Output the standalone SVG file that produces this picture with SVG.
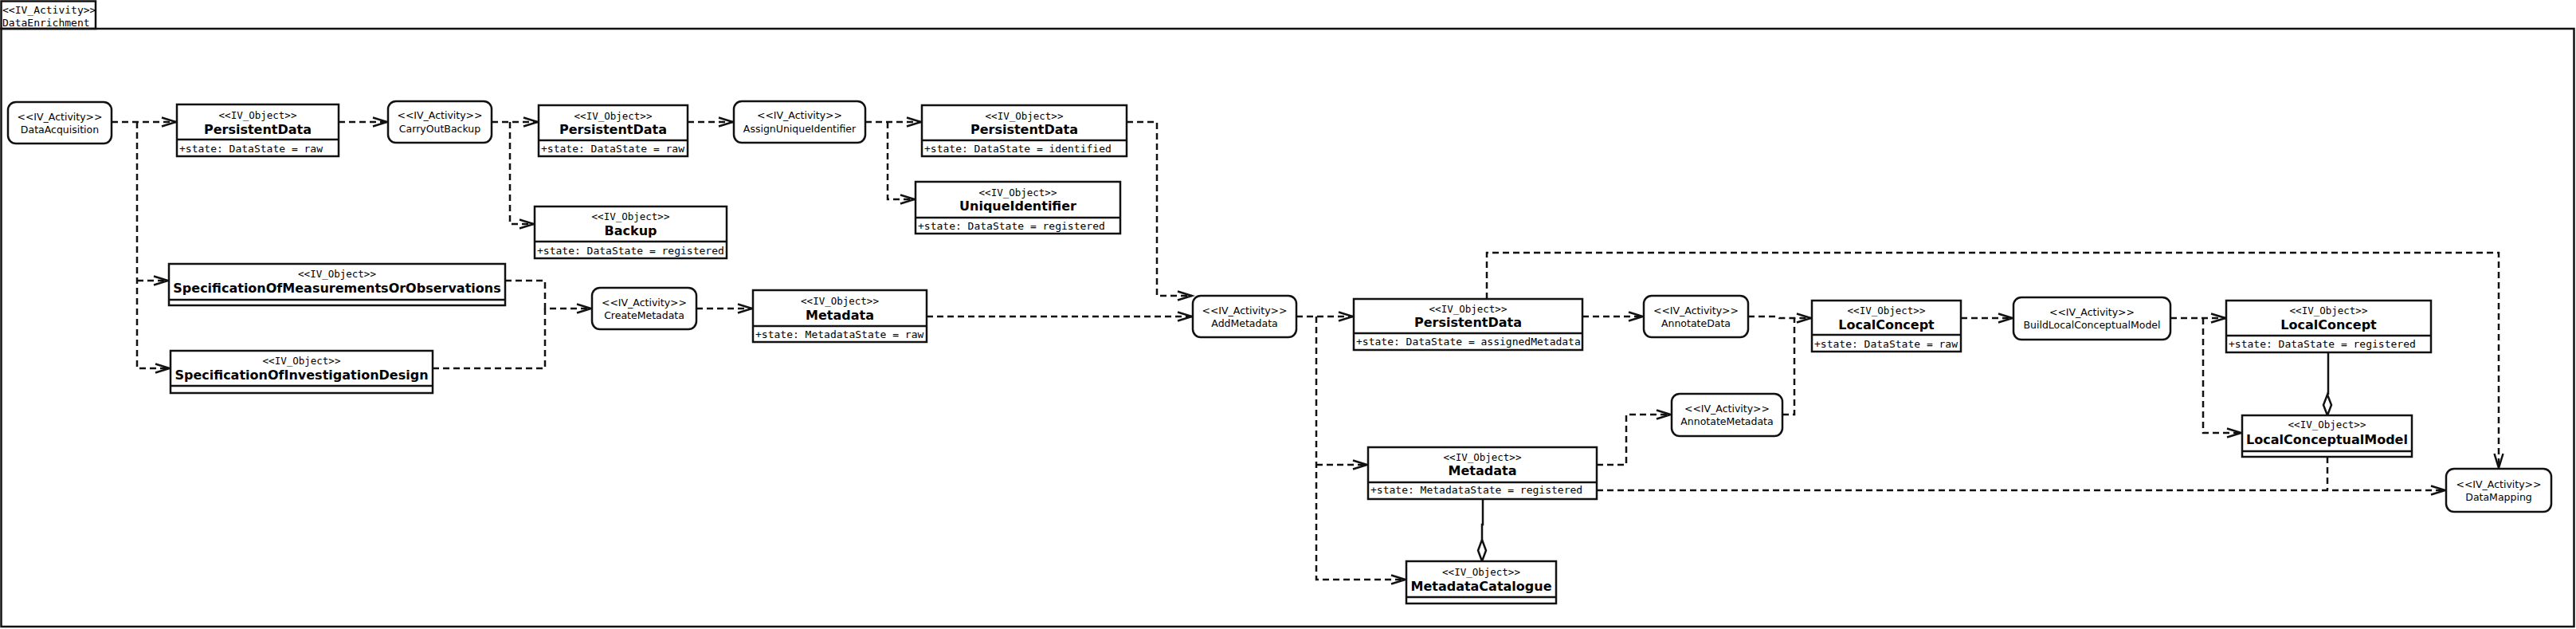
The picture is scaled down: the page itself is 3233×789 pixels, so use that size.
<svg xmlns="http://www.w3.org/2000/svg" width="3233" height="789" viewBox="0 0 3233 789">
<style>
.frame{fill:none;stroke:#111;stroke-width:2.5}
.obj{fill:#fff;stroke:#111;stroke-width:2.5}
.act{fill:#fff;stroke:#111;stroke-width:2.5}
.div{stroke:#111;stroke-width:2.5}
.edge{fill:none;stroke:#111;stroke-width:2.5;stroke-dasharray:8 5}
.solid{fill:none;stroke:#111;stroke-width:2.5}
.dia{fill:#fff;stroke:#111;stroke-width:2.5}
.mono{font-family:"DejaVu Sans Mono","Liberation Mono",monospace;font-size:13px;fill:#000}
.st{font-family:"DejaVu Sans Mono","Liberation Mono",monospace;font-size:12.5px;fill:#000;text-anchor:middle}
.nm{font-family:"DejaVu Sans","Liberation Sans",sans-serif;font-size:16px;font-weight:bold;fill:#000;text-anchor:middle}
.at{font-family:"DejaVu Sans Mono","Liberation Mono",monospace;font-size:13px;fill:#000}
.ac{font-family:"DejaVu Sans","Liberation Sans",sans-serif;font-size:12.5px;fill:#000;text-anchor:middle}
text{dominant-baseline:central}
</style>
<defs>
<marker id="arr" markerUnits="userSpaceOnUse" markerWidth="24" markerHeight="16" viewBox="-20 -8 24 16" refX="0" refY="0" orient="auto">
<path d="M-18,-5.5 L0,0 L-18,5.5" fill="none" stroke="#111" stroke-width="2.5"/>
</marker>
</defs>
<rect x="0" y="0" width="3233" height="789" fill="#fff"/>
<g id="frame">
<rect class="frame" x="1.5" y="36" width="3229" height="750"/>
<rect class="frame" x="1.5" y="1.5" width="118.5" height="34.5"/>
<text class="mono" x="3" y="12">&lt;&lt;IV_Activity&gt;&gt;</text>
<text class="mono" x="3" y="28">DataEnrichment</text>
</g>
<g id="connectors">
<path class="edge" d="M140,153 H221" marker-end="url(#arr)"/>
<path class="edge" d="M172,153 V462 H213" marker-end="url(#arr)"/>
<path class="edge" d="M172,352 H211" marker-end="url(#arr)"/>
<path class="edge" d="M425,153 H486" marker-end="url(#arr)"/>
<path class="edge" d="M617,153 H675" marker-end="url(#arr)"/>
<path class="edge" d="M640,153 V281 H670" marker-end="url(#arr)"/>
<path class="edge" d="M863,153 H920" marker-end="url(#arr)"/>
<path class="edge" d="M1086,153 H1156" marker-end="url(#arr)"/>
<path class="edge" d="M1114,153 V250 H1148" marker-end="url(#arr)"/>
<path class="edge" d="M1414,153 H1452 V371 H1496" marker-end="url(#arr)"/>
<path class="edge" d="M634,352 H684 V387 H742" marker-end="url(#arr)"/>
<path class="edge" d="M543,462 H684 V387"/>
<path class="edge" d="M874,387 H944" marker-end="url(#arr)"/>
<path class="edge" d="M1163,397 H1496" marker-end="url(#arr)"/>
<path class="edge" d="M1627,397 H1698" marker-end="url(#arr)"/>
<path class="edge" d="M1652,397 V727 H1764" marker-end="url(#arr)"/>
<path class="edge" d="M1652,583 H1716" marker-end="url(#arr)"/>
<path class="edge" d="M1986,397 H2062" marker-end="url(#arr)"/>
<path class="edge" d="M1866,375 V317 H3136 V587" marker-end="url(#arr)"/>
<path class="edge" d="M2194,397 H2230 L2233,399 H2273" marker-end="url(#arr)"/>
<path class="edge" d="M2004,583 H2041 V520 H2097" marker-end="url(#arr)"/>
<path class="edge" d="M2237,520 H2252 V399"/>
<path class="edge" d="M2461,399 H2526" marker-end="url(#arr)"/>
<path class="edge" d="M2724,399 H2793" marker-end="url(#arr)"/>
<path class="edge" d="M2765,399 V543 H2813" marker-end="url(#arr)"/>
<path class="edge" d="M2004,615 H3069" marker-end="url(#arr)"/>
<path class="edge" d="M2921,573 V615"/>
<path class="solid" d="M2922,442 V495"/>
<path class="dia" d="M2921,495 L2926,508 L2921,521 L2916,508 Z"/>
<path class="solid" d="M1861,626 V658 H1860 V677"/>
<path class="dia" d="M1860,677 L1865,690.5 L1860,704 L1855,690.5 Z"/>
</g>
<g id="DataAcquisition">
<rect class="act" x="10" y="128" width="130" height="52" rx="10"/>
<text class="ac" x="75" y="146">&lt;&lt;IV_Activity&gt;&gt;</text>
<text class="ac" x="75" y="162">DataAcquisition</text>
</g>
<g id="PersistentData1">
<rect class="obj" x="222" y="131" width="203" height="65"/>
<line class="div" x1="222" y1="175" x2="425" y2="175"/>
<text class="st" x="323.5" y="144">&lt;&lt;IV_Object&gt;&gt;</text>
<text class="nm" x="323.5" y="162">PersistentData</text>
<text class="at" x="225" y="186">+state: DataState = raw</text>
</g>
<g id="CarryOutBackup">
<rect class="act" x="487" y="127" width="130" height="52" rx="10"/>
<text class="ac" x="552" y="144">&lt;&lt;IV_Activity&gt;&gt;</text>
<text class="ac" x="552" y="161">CarryOutBackup</text>
</g>
<g id="PersistentData2">
<rect class="obj" x="676" y="132" width="187" height="64"/>
<line class="div" x1="676" y1="176" x2="863" y2="176"/>
<text class="st" x="769.5" y="145">&lt;&lt;IV_Object&gt;&gt;</text>
<text class="nm" x="769.5" y="162">PersistentData</text>
<text class="at" x="679" y="186">+state: DataState = raw</text>
</g>
<g id="Backup">
<rect class="obj" x="671" y="259" width="241" height="65"/>
<line class="div" x1="671" y1="303" x2="912" y2="303"/>
<text class="st" x="791.5" y="271">&lt;&lt;IV_Object&gt;&gt;</text>
<text class="nm" x="791.5" y="289">Backup</text>
<text class="at" x="674" y="314">+state: DataState = registered</text>
</g>
<g id="AssignUniqueIdentifier">
<rect class="act" x="921" y="127" width="165" height="52" rx="10"/>
<text class="ac" x="1003.5" y="144">&lt;&lt;IV_Activity&gt;&gt;</text>
<text class="ac" x="1003.5" y="161">AssignUniqueIdentifier</text>
</g>
<g id="PersistentData3">
<rect class="obj" x="1157" y="132" width="257" height="64"/>
<line class="div" x1="1157" y1="176" x2="1414" y2="176"/>
<text class="st" x="1285.5" y="145">&lt;&lt;IV_Object&gt;&gt;</text>
<text class="nm" x="1285.5" y="162">PersistentData</text>
<text class="at" x="1160" y="186">+state: DataState = identified</text>
</g>
<g id="UniqueIdentifier">
<rect class="obj" x="1149" y="228" width="257" height="65"/>
<line class="div" x1="1149" y1="273" x2="1406" y2="273"/>
<text class="st" x="1277.5" y="241">&lt;&lt;IV_Object&gt;&gt;</text>
<text class="nm" x="1277.5" y="258">UniqueIdentifier</text>
<text class="at" x="1152" y="283">+state: DataState = registered</text>
</g>
<g id="SpecificationOfMeasurementsOrObservations">
<rect class="obj" x="212" y="331" width="422" height="52"/>
<line class="div" x1="212" y1="376" x2="634" y2="376"/>
<text class="st" x="423" y="343">&lt;&lt;IV_Object&gt;&gt;</text>
<text class="nm" x="423" y="361">SpecificationOfMeasurementsOrObservations</text>
</g>
<g id="SpecificationOfInvestigationDesign">
<rect class="obj" x="214" y="440" width="329" height="53"/>
<line class="div" x1="214" y1="484" x2="543" y2="484"/>
<text class="st" x="378.5" y="452">&lt;&lt;IV_Object&gt;&gt;</text>
<text class="nm" x="378.5" y="470">SpecificationOfInvestigationDesign</text>
</g>
<g id="CreateMetadata">
<rect class="act" x="743" y="361" width="131" height="52" rx="10"/>
<text class="ac" x="808.5" y="379">&lt;&lt;IV_Activity&gt;&gt;</text>
<text class="ac" x="808.5" y="395">CreateMetadata</text>
</g>
<g id="Metadata1">
<rect class="obj" x="945" y="364" width="218" height="65"/>
<line class="div" x1="945" y1="409" x2="1163" y2="409"/>
<text class="st" x="1054" y="377">&lt;&lt;IV_Object&gt;&gt;</text>
<text class="nm" x="1054" y="395">Metadata</text>
<text class="at" x="948" y="419">+state: MetadataState = raw</text>
</g>
<g id="AddMetadata">
<rect class="act" x="1497" y="371" width="130" height="52" rx="10"/>
<text class="ac" x="1562" y="389">&lt;&lt;IV_Activity&gt;&gt;</text>
<text class="ac" x="1562" y="405">AddMetadata</text>
</g>
<g id="PersistentData4">
<rect class="obj" x="1699" y="375" width="287" height="64"/>
<line class="div" x1="1699" y1="418" x2="1986" y2="418"/>
<text class="st" x="1842.5" y="387">&lt;&lt;IV_Object&gt;&gt;</text>
<text class="nm" x="1842.5" y="404">PersistentData</text>
<text class="at" x="1702" y="428">+state: DataState = assignedMetadata</text>
</g>
<g id="AnnotateData">
<rect class="act" x="2063" y="371" width="131" height="52" rx="10"/>
<text class="ac" x="2128.5" y="389">&lt;&lt;IV_Activity&gt;&gt;</text>
<text class="ac" x="2128.5" y="405">AnnotateData</text>
</g>
<g id="LocalConcept1">
<rect class="obj" x="2274" y="377" width="187" height="64"/>
<line class="div" x1="2274" y1="420" x2="2461" y2="420"/>
<text class="st" x="2367.5" y="389">&lt;&lt;IV_Object&gt;&gt;</text>
<text class="nm" x="2367.5" y="407">LocalConcept</text>
<text class="at" x="2277" y="431">+state: DataState = raw</text>
</g>
<g id="BuildLocalConceptualModel">
<rect class="act" x="2527" y="373" width="197" height="53" rx="10"/>
<text class="ac" x="2625.5" y="391">&lt;&lt;IV_Activity&gt;&gt;</text>
<text class="ac" x="2625.5" y="407">BuildLocalConceptualModel</text>
</g>
<g id="LocalConcept2">
<rect class="obj" x="2794" y="377" width="257" height="65"/>
<line class="div" x1="2794" y1="421" x2="3051" y2="421"/>
<text class="st" x="2922.5" y="389">&lt;&lt;IV_Object&gt;&gt;</text>
<text class="nm" x="2922.5" y="407">LocalConcept</text>
<text class="at" x="2797" y="431">+state: DataState = registered</text>
</g>
<g id="LocalConceptualModel">
<rect class="obj" x="2814" y="521" width="213" height="52"/>
<line class="div" x1="2814" y1="566" x2="3027" y2="566"/>
<text class="st" x="2920.5" y="532">&lt;&lt;IV_Object&gt;&gt;</text>
<text class="nm" x="2920.5" y="551">LocalConceptualModel</text>
</g>
<g id="DataMapping">
<rect class="act" x="3070" y="588" width="132" height="54" rx="10"/>
<text class="ac" x="3136" y="607">&lt;&lt;IV_Activity&gt;&gt;</text>
<text class="ac" x="3136" y="623">DataMapping</text>
</g>
<g id="AnnotateMetadata">
<rect class="act" x="2098" y="494" width="139" height="53" rx="10"/>
<text class="ac" x="2167.5" y="512">&lt;&lt;IV_Activity&gt;&gt;</text>
<text class="ac" x="2167.5" y="528">AnnotateMetadata</text>
</g>
<g id="Metadata2">
<rect class="obj" x="1717" y="561" width="287" height="65"/>
<line class="div" x1="1717" y1="605" x2="2004" y2="605"/>
<text class="st" x="1860.5" y="573">&lt;&lt;IV_Object&gt;&gt;</text>
<text class="nm" x="1860.5" y="590">Metadata</text>
<text class="at" x="1720" y="614">+state: MetadataState = registered</text>
</g>
<g id="MetadataCatalogue">
<rect class="obj" x="1765" y="704" width="188" height="53"/>
<line class="div" x1="1765" y1="749" x2="1953" y2="749"/>
<text class="st" x="1859" y="717">&lt;&lt;IV_Object&gt;&gt;</text>
<text class="nm" x="1859" y="735">MetadataCatalogue</text>
</g>
</svg>
